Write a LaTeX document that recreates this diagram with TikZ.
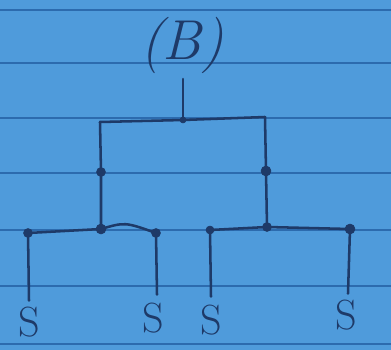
\documentclass[tikz,border=0pt]{standalone}
\usepackage{tikz}
\usepackage{xcolor}
\usetikzlibrary{calc,positioning}

\definecolor{paper}{HTML}{4F9BDB}
\definecolor{rule}{HTML}{2C6BAE}
\definecolor{ink}{HTML}{1E3A68}

\begin{document}
\begin{tikzpicture}[
		x=0.025cm,
		y=-0.025cm,
		line cap=round,
		line join=round,
		branch/.style={
			draw=ink,
			line width=1.8pt
		},
		joint/.style={
			fill=ink,
			draw=ink
		},
		label/.style={
			text=ink,
			inner sep=0pt,
			font=\fontsize{30}{30}\selectfont
		}
		]
		
		% background
		\fill[paper] (0,0) rectangle (391,350);
		\useasboundingbox (0,0) rectangle (391,350);
		
		% ruled lines
		\foreach \yy in {10,63,118,173,230,286,344}
			\draw[rule,line width=1.2pt] (0,\yy) -- (391,\yy);
		
		% root
		\node[label,font=\fontsize{40}{40}\selectfont\itshape] (B) at (182,45) {(B)};
		\coordinate (Bs) at (183,79);
		
		% key vertices
		\coordinate (R)  at (183,120);
		\coordinate (Lt) at (100,122);
		\coordinate (Rt) at (265,117);
		\coordinate (Lm) at (101,172);
		\coordinate (Rm) at (266,171);
		\coordinate (Lj) at (101,229);
		\coordinate (Rj) at (267,227);
		
		% bottom bar ends
		\coordinate (a) at (28,233);
		\coordinate (b) at (156,233);
		\coordinate (c) at (210,230);
		\coordinate (d) at (350,229);
		
		% leaves
		\node[label] (s1) at (29,322) {S};
		\node[label] (s2) at (153,318) {S};
		\node[label] (s3) at (211,320) {S};
		\node[label] (s4) at (346,315) {S};
		
		% root stem and top bar
		\draw[branch] (Bs) -- (R);
		\draw[branch] (Lt) -- (R) -- (Rt);
		
		% two subtrees
		\draw[branch] (Lt) -- (Lm) -- (Lj);
		\draw[branch] (Rt) -- (Rm) -- (Rj);
		
		% bottom bars
		\draw[branch] (a) -- (Lj) .. controls (125,222) .. (b);
		\draw[branch] (c) -- (Rj) -- (d);
		
		% leaf stems
		\draw[branch] (a) -- ($(s1.north)+(0,-6)$);
		\draw[branch] (b) -- ($(s2.north)+(4,-8)$);
		\draw[branch] (c) -- ($(s3.north)+(0,-8)$);
		\draw[branch] (d) -- ($(s4.north)+(2,-6)$);
		
		% joints
		\fill[joint] (R) circle (3);
		\fill[joint] (Lm) circle (4.5);
		\fill[joint] (Rm) circle (5);
		\fill[joint] (Lj) circle (5);
		\fill[joint] (Rj) circle (4.5);
		\fill[joint] (a) circle (4.5);
		\fill[joint] (b) circle (4.5);
		\fill[joint] (c) circle (4);
		\fill[joint] (d) circle (5);
	\end{tikzpicture}
\end{document}
